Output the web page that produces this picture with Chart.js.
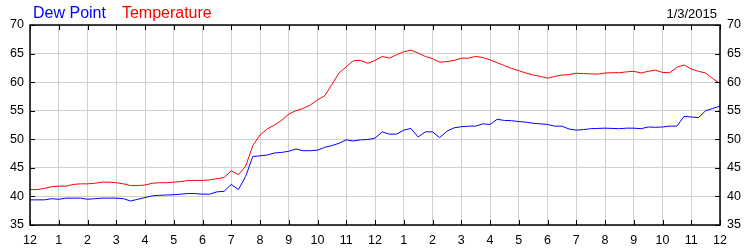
<!DOCTYPE html>
<html>
<head>
<meta charset="utf-8">
<script src="https://cdn.jsdelivr.net/npm/chart.js@4"></script>
<style>
  html, body { margin: 0; padding: 0; background: #fff; }
  #wrap { width: 750px; height: 250px; }
</style>
</head>
<body>
<div id="wrap"><canvas id="weatherChart" width="750" height="250"></canvas></div>
<script>
// values, one every 15 minutes (midnight to midnight)
const temperature = [
  41.2, 41.2, 41.4, 41.7, 41.8, 41.8, 42.1, 42.2, 42.2, 42.3, 42.5, 42.5,
  42.4, 42.2, 41.9, 41.9, 42.0, 42.3, 42.4, 42.4, 42.5, 42.6, 42.8, 42.8,
  42.8, 42.9, 43.1, 43.3, 44.5, 43.8, 45.3, 48.9, 50.75, 51.8, 52.5, 53.3,
  54.4, 55.0, 55.4, 56.0, 56.9, 57.6, 59.6, 61.6, 62.7, 63.75, 63.8, 63.3,
  63.8, 64.5, 64.2, 64.8, 65.3, 65.6, 65.1, 64.5, 64.1, 63.5, 63.6, 63.8,
  64.2, 64.2, 64.5, 64.3, 63.9, 63.4, 62.9, 62.4, 62.0, 61.6, 61.25, 61.0,
  60.7, 61.0, 61.25, 61.3, 61.55, 61.5, 61.45, 61.4, 61.6, 61.65, 61.65, 61.8,
  61.9, 61.6, 61.9, 62.1, 61.7, 61.65, 62.6, 63.0, 62.3, 61.9, 61.6, 60.6,
  59.8
];
const dewPoint = [
  39.4, 39.4, 39.4, 39.6, 39.5, 39.7, 39.7, 39.7, 39.5, 39.6, 39.7, 39.7,
  39.7, 39.6, 39.2, 39.5, 39.8, 40.1, 40.2, 40.25, 40.3, 40.4, 40.5, 40.5,
  40.4, 40.4, 40.8, 40.9, 42.1, 41.2, 43.5, 47.0, 47.1, 47.25, 47.6, 47.7,
  47.9, 48.3, 48.0, 48.0, 48.1, 48.6, 48.9, 49.3, 49.9, 49.7, 49.9, 49.95,
  50.2, 51.3, 50.9, 50.9, 51.6, 51.9, 50.4, 51.3, 51.3, 50.3, 51.4, 52.0,
  52.2, 52.3, 52.3, 52.7, 52.6, 53.5, 53.3, 53.25, 53.1, 53.0, 52.8, 52.7,
  52.6, 52.3, 52.3, 51.8, 51.6, 51.7, 51.85, 51.9, 51.95, 51.9, 51.85, 51.95,
  51.95, 51.85, 52.15, 52.1, 52.15, 52.3, 52.3, 54.0, 53.9, 53.8, 55.0, 55.4,
  55.8
];
const hourLabels = ['12', '1', '2', '3', '4', '5', '6', '7', '8', '9', '10', '11',
                    '12', '1', '2', '3', '4', '5', '6', '7', '8', '9', '10', '11', '12'];
const yTicks = [35, 40, 45, 50, 55, 60, 65, 70];
const dateLabel = '1/3/2015';

const hours = temperature.map((_, i) => i * 0.25);

const FONT = '"Liberation Sans", Arial, sans-serif';

// frame, inward tick marks and the coloured header
const framePlugin = {
  id: 'frame',
  afterDraw(chart) {
    const ctx = chart.ctx;
    const a = chart.chartArea;
    const xs = chart.scales.x;
    const ys = chart.scales.y;
    ctx.save();
    ctx.strokeStyle = '#000';
    ctx.lineWidth = 1;
    ctx.beginPath();
    xs.ticks.forEach((t, i) => {
      const px = Math.round(xs.getPixelForTick(i)) + 0.5;
      ctx.moveTo(px, a.top); ctx.lineTo(px, a.top + 5);
      ctx.moveTo(px, a.bottom); ctx.lineTo(px, a.bottom - 5);
    });
    ys.ticks.forEach((t, i) => {
      const py = Math.round(ys.getPixelForTick(i)) + 0.5;
      ctx.moveTo(a.left, py); ctx.lineTo(a.left + 5, py);
      ctx.moveTo(a.right, py); ctx.lineTo(a.right - 5, py);
    });
    ctx.stroke();
    ctx.lineWidth = 1.5;
    ctx.strokeRect(a.left, a.top, a.right - a.left, a.bottom - a.top);

    ctx.textBaseline = 'alphabetic';
    ctx.font = '16px ' + FONT;
    let x = 33;
    chart.data.datasets.forEach(ds => {
      ctx.fillStyle = ds.borderColor;
      ctx.textAlign = 'left';
      ctx.fillText(ds.label, x, 18);
      x += ctx.measureText(ds.label).width + 16;
    });
    ctx.font = '13px ' + FONT;
    ctx.fillStyle = '#000';
    ctx.textAlign = 'right';
    ctx.fillText(dateLabel, 717, 18);
    ctx.restore();
  }
};

const ctx = document.getElementById('weatherChart').getContext('2d');
const weatherChart = new Chart(ctx, {
  type: 'line',
  data: {
    labels: hours,
    datasets: [{
      label: 'Dew Point',
      data: dewPoint,
      borderColor: '#0000ff',
      borderWidth: 1,
      pointRadius: 0,
      tension: 0
    }, {
      label: 'Temperature',
      data: temperature,
      borderColor: '#ff0000',
      borderWidth: 1,
      pointRadius: 0,
      tension: 0
    }]
  },
  options: {
    responsive: false,
    animation: false,
    layout: { padding: { top: 25, left: 0, right: 0, bottom: 0 } },
    plugins: {
      legend: { display: false },
      tooltip: { enabled: false }
    },
    scales: {
      x: {
        type: 'linear',
        min: 0,
        max: 24,
        afterFit(scale) { scale.height = 25; },
        afterBuildTicks(scale) {
          scale.ticks = hourLabels.map((_, i) => ({ value: i }));
        },
        ticks: {
          autoSkip: false,
          maxRotation: 0,
          padding: 8,
          color: '#000',
          font: { family: FONT, size: 12.5 },
          callback: (v, i) => hourLabels[i]
        },
        grid: { color: '#d0d0d0', drawTicks: false },
        border: { display: false }
      },
      y: {
        position: 'left',
        min: 35,
        max: 70,
        afterFit(scale) { scale.width = 30; },
        afterBuildTicks(scale) {
          scale.ticks = yTicks.map(v => ({ value: v }));
        },
        ticks: {
          padding: 6,
          color: '#000',
          font: { family: FONT, size: 12.5 }
        },
        grid: { color: '#d0d0d0', drawTicks: false },
        border: { display: false }
      },
      y2: {
        position: 'right',
        min: 35,
        max: 70,
        afterFit(scale) { scale.width = 30; },
        afterBuildTicks(scale) {
          scale.ticks = yTicks.map(v => ({ value: v }));
        },
        ticks: {
          padding: 7,
          color: '#000',
          font: { family: FONT, size: 12.5 }
        },
        grid: { display: false, drawTicks: false },
        border: { display: false }
      }
    }
  },
  plugins: [framePlugin]
});
</script>
</body>
</html>
